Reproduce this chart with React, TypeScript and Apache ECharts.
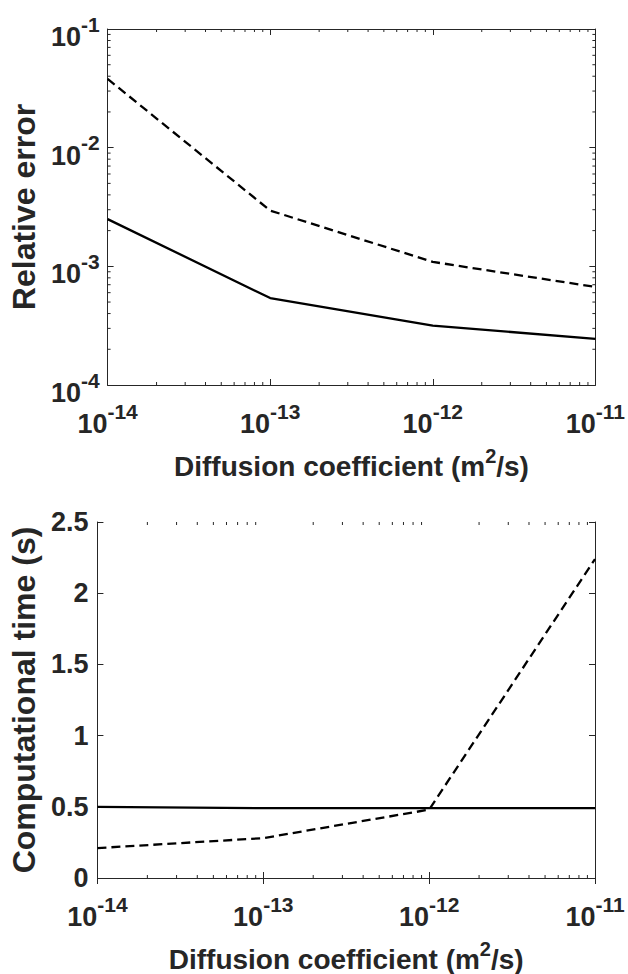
import React, { useEffect, useRef } from "react";
import * as echarts from "echarts";

// ---------- data ----------
const diffusion = [1e-14, 1e-13, 1e-12, 1e-11];
const errSolid = [0.0025, 0.00054, 0.000316, 0.000245];
const errDashed = [0.038, 0.00295, 0.00109, 0.00067];
const timeSolid = [0.5, 0.49, 0.49, 0.49];
const timeDashed = [0.21, 0.28, 0.48, 2.24];
const xMinorTicks = [
  2e-14, 3e-14, 4e-14, 5e-14, 6e-14, 7e-14, 8e-14, 9e-14,
  2e-13, 3e-13, 4e-13, 5e-13, 6e-13, 7e-13, 8e-13, 9e-13,
  2e-12, 3e-12, 4e-12, 5e-12, 6e-12, 7e-12, 8e-12, 9e-12,
];
const yMinorTicks = [
  2e-4, 3e-4, 4e-4, 5e-4, 6e-4, 7e-4, 8e-4, 9e-4,
  2e-3, 3e-3, 4e-3, 5e-3, 6e-3, 7e-3, 8e-3, 9e-3,
  2e-2, 3e-2, 4e-2, 5e-2, 6e-2, 7e-2, 8e-2, 9e-2,
];
const xTitle = ["Diffusion coefficient (m", "2", "/s)"];
const yTitleTop = "Relative error";
const yTitleBottom = "Computational time (s)";

const AX = "#262626";
const FONT = "'Liberation Sans', Arial, Helvetica, sans-serif";

const richX = {
  b: { fontSize: 27, fontWeight: "bold", color: AX, fontFamily: FONT, lineHeight: 27, padding: [12, 0, 0, 0] },
  s: { fontSize: 21, fontWeight: "bold", color: AX, fontFamily: FONT, lineHeight: 21, padding: [0, 0, 12, 0] },
};
const richY = {
  b: { fontSize: 27, fontWeight: "bold", color: AX, fontFamily: FONT, lineHeight: 27, padding: [16, 0, 0, 0] },
  s: { fontSize: 21, fontWeight: "bold", color: AX, fontFamily: FONT, lineHeight: 21, padding: [0, 0, 10, 0] },
};
const powFmt = (v: number) => `{b|10}{s|${Math.round(Math.log10(v))}}`;

const axisLine = { show: true, lineStyle: { color: AX, width: 1 } };
const axisTick = { show: true, inside: true, length: 6, lineStyle: { color: AX, width: 1 } };

const titleRich = {
  t: { fontSize: 28, fontWeight: "bold", color: AX, fontFamily: FONT, lineHeight: 28, padding: [10, 0, 0, 0] },
  s: { fontSize: 20, fontWeight: "bold", color: AX, fontFamily: FONT, lineHeight: 20, padding: [0, 0, 10, 0] },
};

function logX(gridIndex: number, pos: "bottom" | "top", labels: boolean): any {
  return {
    type: "log",
    logBase: 10,
    gridIndex,
    position: pos,
    min: 1e-14,
    max: 1e-11,
    axisLine,
    axisTick,
    splitLine: { show: false },
    axisLabel: labels
      ? { show: true, formatter: powFmt, rich: richX, margin: 19 }
      : { show: false },
    name: labels ? `{t|${xTitle[0]}}{s|${xTitle[1]}}{t|${xTitle[2]}}` : "",
    nameLocation: "middle",
    nameGap: 62,
    nameTextStyle: { rich: titleRich },
  };
}

function minorSeries(xIdx: number, yIdx: number, vals: number[], kind: "x" | "y", yMin: number, xMin: number): any {
  return {
    type: "custom",
    xAxisIndex: xIdx,
    yAxisIndex: yIdx,
    silent: true,
    clip: false,
    data: vals.map((v) => (kind === "x" ? [v, yMin] : [xMin, v])),
    renderItem: (params: any, api: any) => {
      const p = api.coord([api.value(0), api.value(1)]);
      const cs = params.coordSys;
      const L = 3;
      const style = { stroke: AX, lineWidth: 1 };
      if (kind === "x") {
        return {
          type: "group",
          children: [
            { type: "line", shape: { x1: p[0], y1: cs.y + cs.height, x2: p[0], y2: cs.y + cs.height - L }, style },
            { type: "line", shape: { x1: p[0], y1: cs.y, x2: p[0], y2: cs.y + L }, style },
          ],
        };
      }
      return {
        type: "group",
        children: [
          { type: "line", shape: { x1: cs.x, y1: p[1], x2: cs.x + L, y2: p[1] }, style },
          { type: "line", shape: { x1: cs.x + cs.width, y1: p[1], x2: cs.x + cs.width - L, y2: p[1] }, style },
        ],
      };
    },
  };
}

export default function App() {
  const ref = useRef<HTMLDivElement>(null);
  useEffect(() => {
    if (!ref.current) return;
    const chart = echarts.init(ref.current, undefined, { renderer: "svg" });
    const option: any = {
      animation: false,
      backgroundColor: "#ffffff",
      grid: [
        { left: 104, top: 29, width: 492, height: 356 },
        { left: 92, top: 522, width: 503, height: 356 },
      ],
      xAxis: [logX(0, "bottom", true), logX(0, "top", false), logX(1, "bottom", true), logX(1, "top", false)],
      yAxis: [
        {
          type: "log", logBase: 10, gridIndex: 0, position: "left", min: 1e-4, max: 1e-1,
          axisLine, axisTick, splitLine: { show: false },
          axisLabel: { show: true, formatter: powFmt, rich: richY, margin: 8 },
          name: yTitleTop, nameLocation: "middle", nameGap: 63,
          nameTextStyle: { fontSize: 32, lineHeight: 32, fontWeight: "bold", color: AX, fontFamily: FONT },
        },
        {
          type: "log", logBase: 10, gridIndex: 0, position: "right", min: 1e-4, max: 1e-1,
          axisLine, axisTick, splitLine: { show: false }, axisLabel: { show: false },
        },
        {
          type: "value", gridIndex: 1, position: "left", min: 0, max: 2.5, interval: 0.5,
          axisLine, axisTick, splitLine: { show: false },
          axisLabel: {
            show: true, margin: 9, fontSize: 27, fontWeight: "bold", color: AX, fontFamily: FONT,
            formatter: (v: number) => String(v),
          },
          name: yTitleBottom, nameLocation: "middle", nameGap: 51,
          nameTextStyle: { fontSize: 32, lineHeight: 32, fontWeight: "bold", color: AX, fontFamily: FONT },
        },
        {
          type: "value", gridIndex: 1, position: "right", min: 0, max: 2.5, interval: 0.5,
          axisLine, axisTick, splitLine: { show: false }, axisLabel: { show: false },
        },
      ],
      series: [
        {
          type: "line", xAxisIndex: 0, yAxisIndex: 0, showSymbol: false,
          data: diffusion.map((d, i) => [d, errSolid[i]]),
          lineStyle: { color: "#000", width: 2.3, type: "solid" },
        },
        {
          type: "line", xAxisIndex: 0, yAxisIndex: 0, showSymbol: false,
          data: diffusion.map((d, i) => [d, errDashed[i]]),
          lineStyle: { color: "#000", width: 2.3, type: [9, 5] },
        },
        {
          type: "line", xAxisIndex: 2, yAxisIndex: 2, showSymbol: false,
          data: diffusion.map((d, i) => [d, timeSolid[i]]),
          lineStyle: { color: "#000", width: 2.3, type: "solid" },
        },
        {
          type: "line", xAxisIndex: 2, yAxisIndex: 2, showSymbol: false,
          data: diffusion.map((d, i) => [d, timeDashed[i]]),
          lineStyle: { color: "#000", width: 2.3, type: [9, 5] },
        },
        minorSeries(0, 0, xMinorTicks, "x", 1e-4, 1e-14),
        minorSeries(0, 0, yMinorTicks, "y", 1e-4, 1e-14),
        minorSeries(2, 2, xMinorTicks, "x", 0, 1e-14),
      ],
    };
    chart.setOption(option);
    return () => chart.dispose();
  }, []);
  return (
    <div
      ref={ref}
      style={{ position: "fixed", left: 0, top: 0, width: 628, height: 974, background: "#fff" }}
    />
  );
}
